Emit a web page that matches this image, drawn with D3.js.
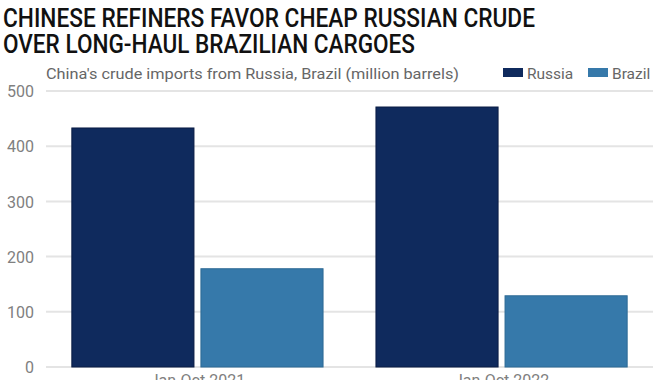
<!DOCTYPE html>
<html>
<head>
<meta charset="utf-8">
<script src="https://cdn.jsdelivr.net/npm/d3@7"></script>
<style>
  html, body { margin: 0; padding: 0; background: #fff; }
  svg { display: block; }
</style>
</head>
<body>
<svg id="chart" width="670" height="380"></svg>
<script>
const titleLines = ["CHINESE REFINERS FAVOR CHEAP RUSSIAN CRUDE", "OVER LONG-HAUL BRAZILIAN CARGOES"];
const subtitle = "China's crude imports from Russia, Brazil (million barrels)";
const categories = ["Jan-Oct 2021", "Jan-Oct 2022"];
const seriesNames = ["Russia", "Brazil"];
const russiaValues = [433, 471];
const brazilValues = [178, 129];
const yTicks = [0, 100, 200, 300, 400, 500];
const colors = ["#0f2a5d", "#3679aa"];

const seriesValues = [russiaValues, brazilValues];
const svg = d3.select("#chart");

// Title
const title = svg.append("g").attr("font-family", "Roboto, sans-serif").attr("font-weight", 500).attr("fill", "#111");
title.append("text").attr("x", 3).attr("y", 27).attr("font-size", 25)
  .attr("textLength", 532).attr("lengthAdjust", "spacingAndGlyphs").text(titleLines[0]);
title.append("text").attr("x", 3).attr("y", 53).attr("font-size", 25)
  .attr("textLength", 412).attr("lengthAdjust", "spacingAndGlyphs").text(titleLines[1]);

// Subtitle
svg.append("text").attr("x", 46).attr("y", 79).attr("font-family", "Roboto, sans-serif")
  .attr("font-size", 15.5).attr("fill", "#666")
  .attr("textLength", 413).attr("lengthAdjust", "spacingAndGlyphs").text(subtitle);

// Scales
const y = d3.scaleLinear().domain([0, 500]).range([367, 91]);
const x0 = d3.scaleBand().domain(categories).range([46, 653]).paddingInner(0.174).paddingOuter(0.085);
const x1 = d3.scaleBand().domain(seriesNames).range([0, x0.bandwidth()]).paddingInner(0.054);

// Grid
svg.append("g").selectAll("line").data(yTicks).join("line")
  .attr("x1", 46).attr("x2", 653)
  .attr("y1", d => y(d)).attr("y2", d => y(d))
  .attr("stroke", "#e4e4e4").attr("stroke-width", 2);

// Y axis labels
const yAxis = d3.axisLeft(y).tickValues(yTicks).tickSize(0).tickPadding(0);
svg.append("g").attr("transform", "translate(34,0)").call(yAxis)
  .call(g => g.select(".domain").remove())
  .call(g => g.selectAll("text").attr("font-family", "Roboto, sans-serif").attr("font-size", 16).attr("fill", "#808080").attr("dy", "0.36em"));

// Bars
const groups = svg.append("g").selectAll("g").data(categories).join("g")
  .attr("transform", d => `translate(${x0(d)},0)`);
groups.selectAll("rect").data((c, i) => seriesNames.map((s, j) => ({ s, j, v: seriesValues[j][i] }))).join("rect")
  .attr("x", d => x1(d.s))
  .attr("width", x1.bandwidth())
  .attr("y", d => y(d.v))
  .attr("height", d => y(0) - y(d.v))
  .attr("fill", d => colors[d.j])
  .attr("stroke", d => d.j === 0 ? "#0a1c44" : "#2d6a95")
  .attr("stroke-width", 1);

// X axis labels (cut off at the bottom edge, as in the original)
const xAxis = d3.axisBottom(x0).tickSize(0).tickPadding(0);
svg.append("g").attr("transform", "translate(0,372)").call(xAxis)
  .call(g => g.select(".domain").remove())
  .call(g => g.selectAll("text").attr("font-family", "Roboto, sans-serif").attr("font-size", 16).attr("fill", "#808080").attr("dy", "0.9em"));

// Legend
const legendX = [503, 588];
const legend = svg.append("g").selectAll("g").data(seriesNames).join("g")
  .attr("transform", (d, i) => `translate(${legendX[i]},0)`);
legend.append("rect").attr("x", 0).attr("y", 68).attr("width", 20).attr("height", 9)
  .attr("fill", (d, i) => colors[i]);
legend.append("text").attr("x", 24).attr("y", 79).attr("font-family", "Roboto, sans-serif")
  .attr("font-size", 15.5).attr("fill", "#666").text(d => d);
</script>
</body>
</html>
